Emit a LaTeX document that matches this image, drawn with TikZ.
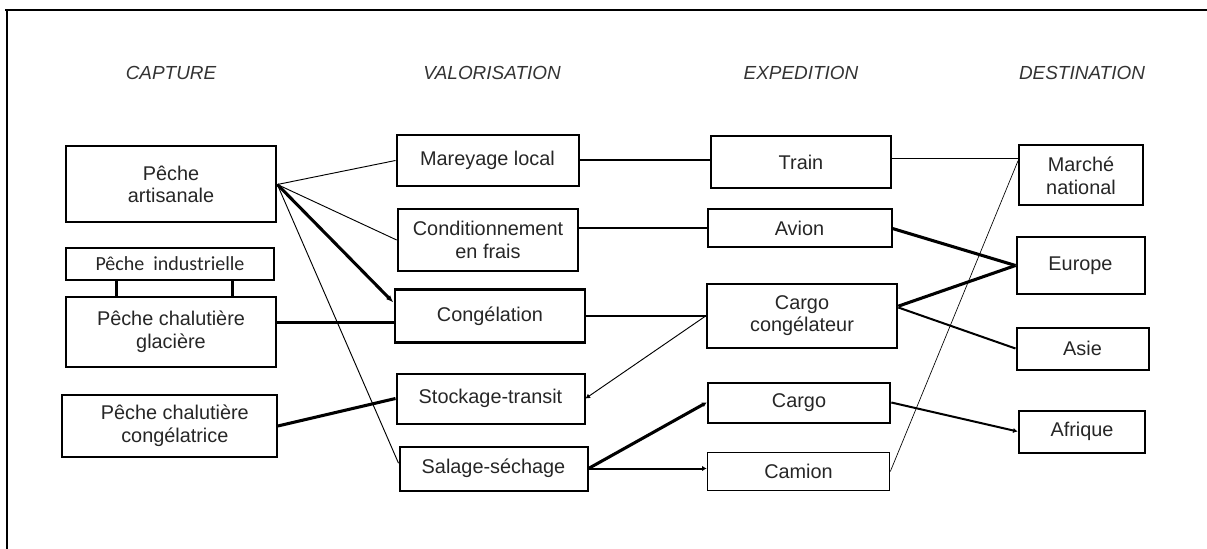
\documentclass[tikz,border=0pt]{standalone}
\usepackage{fontspec}
\setmainfont{Liberation Sans}
\newfontfamily\calibri{Carlito}
\usepackage{tikz}
\usetikzlibrary{arrows.meta}

\begin{document}
\begin{tikzpicture}[
  x=0.75pt, y=-0.75pt,
  box/.style={draw, line width=1.5pt, align=center, inner sep=0pt, text=black!85,
    font=\fontsize{14.9}{17}\selectfont},
  head/.style={text=black!80, font=\fontsize{14.2}{17}\selectfont\itshape},
  thin/.style={line width=0.7pt},
  mid/.style={line width=1.5pt},
  heavy/.style={line width=2.3pt},
  arrow/.style={-{Latex[length=2mm]}},
  tip/.style={-{Latex[length=1.2mm,width=1.4mm]}}
]
\useasboundingbox (0,0) rectangle (1207,549);
\draw[line width=2.2pt] (5,10) -- (1207,10);
\draw[line width=1.6pt] (7,10) -- (7,549);

% column titles
\node[head] (hcap) at (171,73) {CAPTURE};
\node[head] (hval) at (492,73) {VALORISATION};
\node[head] (hexp) at (801,73) {EXPEDITION};
\node[head] (hdest) at (1082,73) {DESTINATION};

% capture
\node[box, minimum width=158pt, minimum height=57pt] (art) at (171,184.5) {P\^eche\\artisanale};
\node[box, minimum width=156.5pt, minimum height=24pt, font=\calibri\fontsize{15}{17}\selectfont] (ind) at (170,264) {P\^eche\ \ industrielle};
\node[box, minimum width=158pt, minimum height=53pt] (glac) at (171,332) {P\^eche chaluti\`ere\\glaci\`ere};
\node[box, minimum width=161pt, minimum height=46pt] (congtr) at (169.5,426) {\hspace{8pt}P\^eche chaluti\`ere\\\hspace{8pt}cong\'elatrice};

% valorisation
\node[box, minimum width=136.5pt, minimum height=38.5pt] (mar) at (487.5,160.5) {Mareyage local};
\node[box, minimum width=135.5pt, minimum height=46pt] (cond) at (488,240) {Conditionnement\\en frais};
\node[box, line width=2.2pt, minimum width=142.5pt, minimum height=39.5pt] (gel) at (490,316) {Cong\'elation};
\node[box, minimum width=141pt, minimum height=37.5pt] (stock) at (490.5,398.5) {Stockage-transit};
\node[box, minimum width=141pt, minimum height=33pt] (sal) at (493.5,468.5) {Salage-s\'echage};

% expedition
\node[box, minimum width=135.5pt, minimum height=38.5pt] (train) at (801,162) {Train};
\node[box, minimum width=138pt, minimum height=28.5pt] (avion) at (799.5,228.5) {Avion};
\node[box, minimum width=143pt, minimum height=48pt] (cargoc) at (802,315.5) {Cargo\\cong\'elateur};
\node[box, minimum width=137pt, minimum height=30pt] (cargo) at (799,402.5) {Cargo};
\node[box, line width=0.7pt, minimum width=137pt, minimum height=29pt] (camion) at (798.5,471.5) {Camion};

% destination
\node[box, minimum width=93pt, minimum height=45pt] (mn) at (1081,175.5) {March\'e\\national};
\node[box, minimum width=96pt, minimum height=42pt] (eur) at (1080.5,265.5) {Europe};
\node[box, minimum width=99pt, minimum height=31.5pt] (asie) at (1082.5,348.5) {Asie};
\node[box, minimum width=95pt, minimum height=31.5pt] (afr) at (1082,431.5) {Afrique};

% links
\draw[heavy] ([xshift=-40pt]ind.south) -- ([xshift=-40pt]ind.south |- glac.north);
\draw[heavy] ([xshift=47pt]ind.south) -- ([xshift=47pt]ind.south |- glac.north);

\draw[thin] (art.east) -- (mar.west);
\draw[thin] (art.east) -- (cond.west);
\draw[heavy, arrow] (art.east) -- ([yshift=10pt]gel.west);
\draw[thin] (art.east) -- ([yshift=4pt]sal.west);
\draw[heavy] ([yshift=-5pt]glac.east |- gel.west) -- ([yshift=-5pt]gel.west);
\draw[heavy] (congtr.east) -- (stock.west);

\draw[mid] (mar.east) -- (mar.east -| train.west);
\draw[mid] (avion.west -| cond.east) -- (avion.west);
\draw[mid] (gel.east) -- (gel.east -| cargoc.west);
\draw[thin, tip] (gel.east -| cargoc.west) -- (stock.east);
\draw[heavy, tip] (sal.east) -- (cargo.west);
\draw[mid, tip] (sal.east) -- (sal.east -| camion.west);

\draw[line width=0.6pt] ([yshift=3pt]train.east) -- ([yshift=3pt]train.east -| mn.west);
\draw[heavy] (avion.east) -- (eur.west);
\draw[heavy] ([yshift=7pt]cargoc.east) -- (eur.west);
\draw[mid] ([yshift=6pt]cargoc.east) -- (asie.west);
\draw[mid, tip] (cargo.east) -- (afr.west);
\draw[line width=0.5pt] (camion.east) -- ([yshift=11pt]mn.west);
\end{tikzpicture}
\end{document}
